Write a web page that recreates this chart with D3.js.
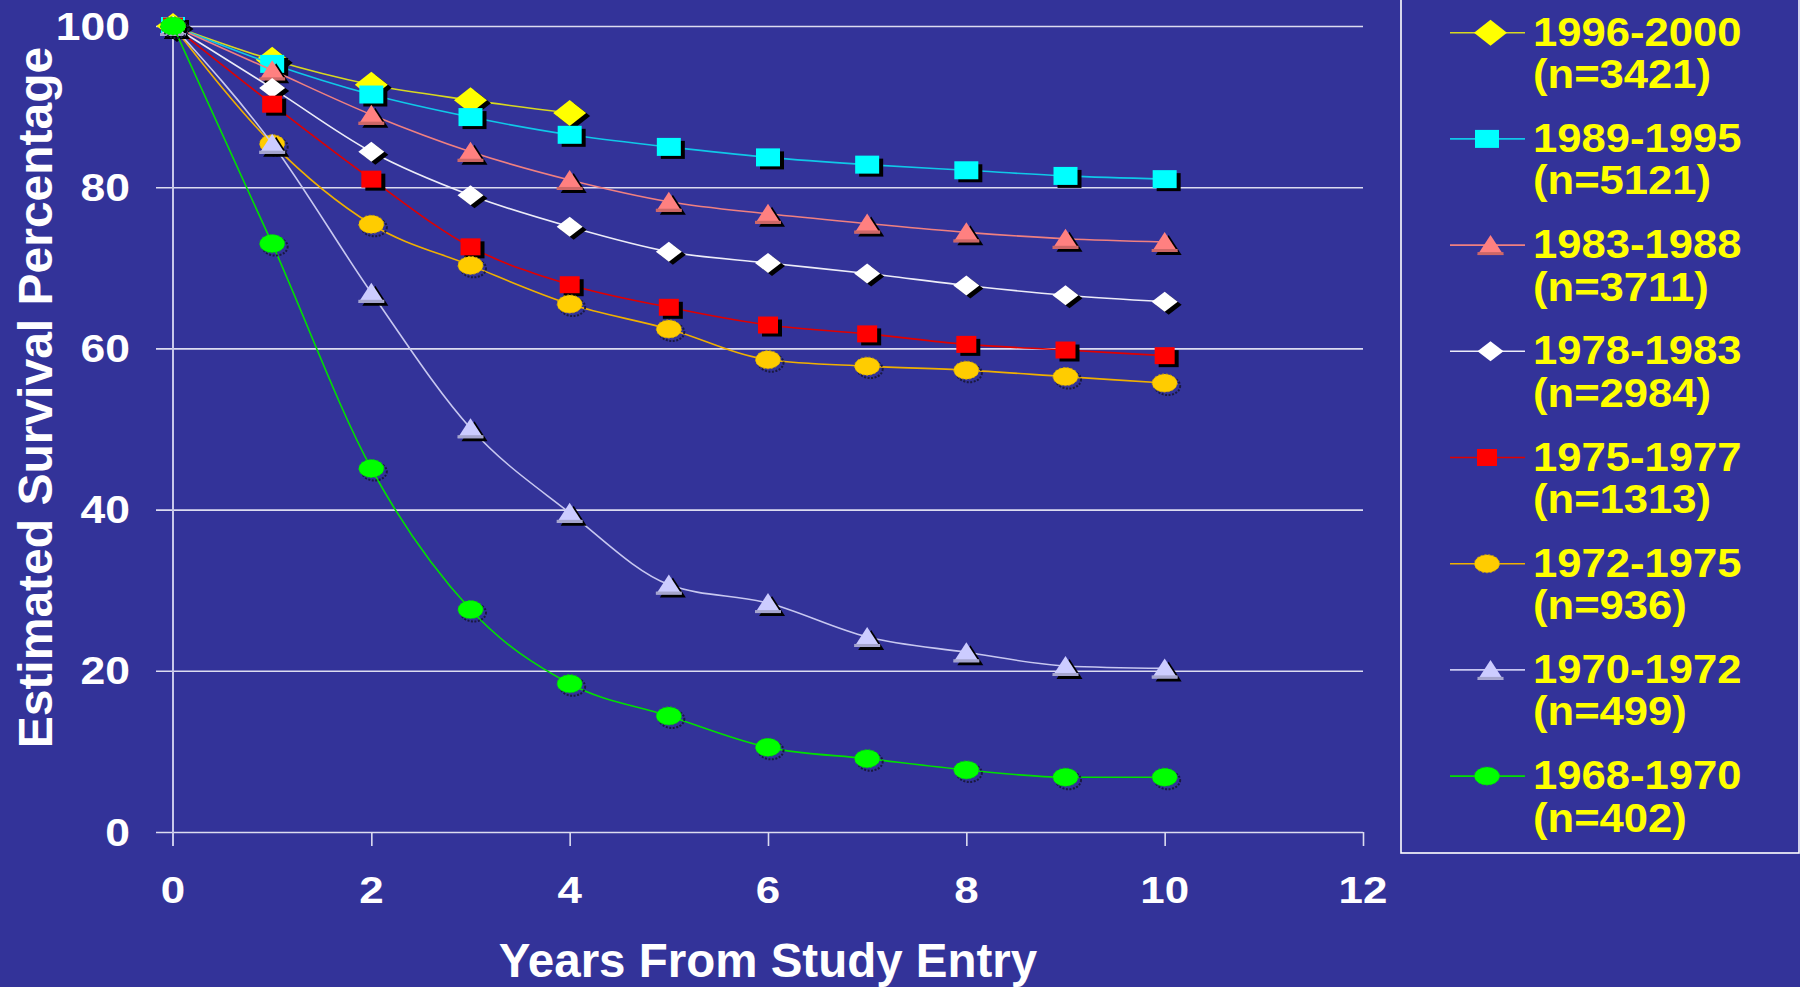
<!DOCTYPE html>
<html>
<head>
<meta charset="utf-8">
<script src="https://cdn.jsdelivr.net/npm/d3@7"></script>
<style>
  html, body { margin: 0; padding: 0; background: #333399; }
  svg { display: block; }
  text { font-family: "Liberation Sans", Arial, Helvetica, sans-serif; font-weight: bold; }
</style>
</head>
<body>
<svg id="chart" width="1800" height="987"></svg>
<script>
// Years from study entry at which survival was estimated
const years = [0, 1, 2, 3, 4, 5, 6, 7, 8, 9, 10];

// Estimated survival (%) for each treatment era
const era1996 = [100, 95.8, 92.7, 90.8, 89.2];
const era1989 = [100, 95.3, 91.5, 88.7, 86.5, 85.0, 83.7, 82.8, 82.1, 81.4, 81.0];
const era1983 = [100, 94.5, 89.0, 84.4, 80.9, 78.2, 76.7, 75.5, 74.4, 73.6, 73.2];
const era1978 = [100, 92.3, 84.4, 79.0, 75.1, 72.0, 70.6, 69.3, 67.8, 66.6, 65.8];
const era1975 = [100, 90.3, 81.0, 72.6, 67.9, 65.1, 62.9, 61.8, 60.5, 59.8, 59.1];
const era1972 = [100, 85.4, 75.4, 70.3, 65.5, 62.4, 58.6, 57.8, 57.3, 56.5, 55.7];
const era1970 = [100, 85.4, 66.9, 50.1, 39.6, 30.7, 28.4, 24.2, 22.3, 20.6, 20.3];
const era1968 = [100, 73.0, 45.1, 27.6, 18.4, 14.4, 10.5, 9.1, 7.7, 6.8, 6.8];

const eraLabels = ["1996-2000", "1989-1995", "1983-1988", "1978-1983",
                   "1975-1977", "1972-1975", "1970-1972", "1968-1970"];
const eraCounts = ["(n=3421)", "(n=5121)", "(n=3711)", "(n=2984)",
                   "(n=1313)", "(n=936)", "(n=499)", "(n=402)"];
const eraValues = [era1996, era1989, era1983, era1978, era1975, era1972, era1970, era1968];

const xTicks = [0, 2, 4, 6, 8, 10, 12];
const yTicks = [0, 20, 40, 60, 80, 100];

// Visual style per era: marker shape, fill, line colour, marker size
const eraStyles = [
  { shape: "diamond",  fill: "#ffff00", line: "#d8d820", w: 33, h: 26 },
  { shape: "square",   fill: "#00ffff", line: "#10c8e8", w: 24, h: 18 },
  { shape: "triangle", fill: "#ff8080", line: "#f08080", w: 26, h: 20 },
  { shape: "diamond",  fill: "#ffffff", line: "#ececf8", w: 26, h: 20 },
  { shape: "square",   fill: "#ff0000", line: "#e00000", w: 20, h: 17 },
  { shape: "circle",   fill: "#ffcc00", line: "#f0b000", w: 25, h: 18 },
  { shape: "triangle", fill: "#ccccff", line: "#c8c8f0", w: 26, h: 20 },
  { shape: "circle",   fill: "#00ff00", line: "#00e000", w: 25, h: 18 }
];

const svg = d3.select("#chart");
const plot = { left: 173, right: 1363, top: 26, bottom: 832 };

const x = d3.scaleLinear().domain([0, 12]).range([plot.left, plot.right]);
const y = d3.scaleLinear().domain([0, 100]).range([plot.bottom, plot.top]);

// Gridlines with short tick stubs to the left of the axis
const yAxis = d3.axisLeft(y).tickValues(yTicks).tickFormat("")
  .tickSize(-(plot.right - plot.left)).tickSizeOuter(0);
const gy = svg.append("g").attr("transform", `translate(${plot.left},0)`).call(yAxis);
gy.select(".domain").remove();
gy.selectAll(".tick line")
  .attr("x1", -17)
  .attr("stroke", "#dcdcf0").attr("stroke-width", 1.6);

// Vertical axis line
svg.append("line")
  .attr("x1", plot.left).attr("x2", plot.left)
  .attr("y1", y(100)).attr("y2", plot.bottom + 14)
  .attr("stroke", "#c8c8ea").attr("stroke-width", 2);

// X tick marks below the baseline
const xAxis = d3.axisBottom(x).tickValues(xTicks.filter(d => d > 0)).tickFormat("")
  .tickSize(14).tickSizeOuter(0);
const gx = svg.append("g").attr("transform", `translate(0,${plot.bottom})`).call(xAxis);
gx.select(".domain").remove();
gx.selectAll(".tick line").attr("stroke", "#dcdcf0").attr("stroke-width", 1.6);

// Tick labels (the face is slightly widened)
svg.append("g").selectAll("text").data(yTicks).join("text")
  .attr("transform", d => `translate(130,${y(d) + 13.5}) scale(1.17,1)`)
  .attr("text-anchor", "end")
  .attr("font-size", 38)
  .attr("fill", "#ffffff")
  .text(d => d);

svg.append("g").selectAll("text").data(xTicks).join("text")
  .attr("transform", d => `translate(${x(d)},${903}) scale(1.17,1)`)
  .attr("text-anchor", "middle")
  .attr("font-size", 37.5)
  .attr("fill", "#ffffff")
  .text(d => d);

// Axis titles
svg.append("text")
  .attr("x", (plot.left + plot.right) / 2).attr("y", 977)
  .attr("text-anchor", "middle")
  .attr("font-size", 47.5)
  .attr("fill", "#ffffff")
  .text("Years From Study Entry");

svg.append("text")
  .attr("transform", "translate(52,397.5) rotate(-90)")
  .attr("text-anchor", "middle")
  .attr("font-size", 48)
  .attr("fill", "#ffffff")
  .text("Estimated Survival Percentage");

// Marker path builders (centred on the origin)
function markerPath(shape, w, h) {
  const hw = w / 2, hh = h / 2;
  if (shape === "diamond") return `M0,${-hh}L${hw},0L0,${hh}L${-hw},0Z`;
  if (shape === "square") return `M${-hw},${-hh}H${hw}V${hh}H${-hw}Z`;
  if (shape === "triangle") return `M0,${-hh}L${hw},${hh}L${-hw},${hh}Z`;
  return null;
}

function drawMarker(g, st, cx, cy, withShadow) {
  const p = markerPath(st.shape, st.w, st.h);
  if (withShadow) {
    if (p) {
      g.append("path").attr("d", p)
        .attr("transform", `translate(${cx + 4},${cy + 3})`)
        .attr("fill", "#000000");
    } else {
      g.append("ellipse")
        .attr("cx", cx + 3).attr("cy", cy + 3)
        .attr("rx", st.w / 2).attr("ry", st.h / 2)
        .attr("fill", "none").attr("stroke", "#1a1a40").attr("stroke-width", 2)
        .attr("stroke-dasharray", "2,1.5");
    }
  }
  if (p) {
    g.append("path").attr("d", p)
      .attr("transform", `translate(${cx},${cy})`)
      .attr("fill", st.fill);
    if (st.shape === "triangle") {
      // darker lower edge gives the bevelled look
      g.append("rect")
        .attr("x", cx - st.w / 2).attr("y", cy + st.h / 2 - 3)
        .attr("width", st.w).attr("height", 3)
        .attr("fill", d3.color(st.fill).darker(0.6));
    }
  } else {
    g.append("ellipse")
      .attr("cx", cx).attr("cy", cy)
      .attr("rx", st.w / 2).attr("ry", st.h / 2)
      .attr("fill", st.fill)
      .attr("stroke", d3.color(st.fill).darker(0.5)).attr("stroke-width", 1)
      .attr("stroke-dasharray", "2,2");
  }
}

// Survival curves, earliest listed era drawn first so later eras sit on top
const line = d3.line()
  .x((d, i) => x(years[i]))
  .y(d => y(d))
  .curve(d3.curveMonotoneX);

const series = svg.append("g");
eraValues.forEach((vals, k) => {
  const st = eraStyles[k];
  const g = series.append("g");
  g.append("path")
    .attr("d", line(vals))
    .attr("fill", "none")
    .attr("stroke", st.line)
    .attr("stroke-width", 1.6);
  vals.forEach((v, i) => drawMarker(g, st, x(years[i]), y(v), true));
});

// Legend
const legend = svg.append("g");
legend.append("rect")
  .attr("x", 1401).attr("y", -5)
  .attr("width", 398).attr("height", 858)
  .attr("fill", "none")
  .attr("stroke", "#ffffff").attr("stroke-width", 1.6);

eraLabels.forEach((lab, k) => {
  const st = eraStyles[k];
  const ly = 32.7 + 106.2 * k;
  const g = legend.append("g");
  g.append("line")
    .attr("x1", 1450).attr("x2", 1525)
    .attr("y1", ly).attr("y2", ly)
    .attr("stroke", st.line).attr("stroke-width", 1.6);
  const mx = st.shape === "square" || st.shape === "circle" ? 1487 : 1490.5;
  drawMarker(g, st, mx, ly, false);
  g.append("text")
    .attr("transform", `translate(1533,${ly + 13}) scale(1.09,1)`)
    .attr("font-size", 40)
    .attr("fill", "#ffff00")
    .text(lab);
  g.append("text")
    .attr("transform", `translate(1533,${ly + 55.5}) scale(1.09,1)`)
    .attr("font-size", 40)
    .attr("fill", "#ffff00")
    .text(eraCounts[k]);
});
</script>
</body>
</html>
